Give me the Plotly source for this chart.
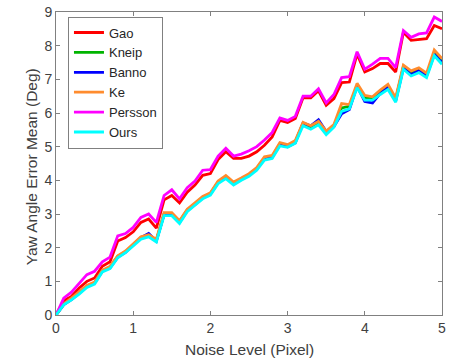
import plotly.graph_objects as go

noise = [round(i * 0.1, 1) for i in range(51)]

gao = [0, 0.42, 0.55, 0.8, 1.0, 1.1, 1.45, 1.58, 2.2, 2.3,
       2.47, 2.75, 2.85, 2.58, 3.42, 3.55, 3.33, 3.65, 3.86, 4.15,
       4.2, 4.62, 4.85, 4.65, 4.65, 4.72, 4.85, 5.04, 5.29, 5.78,
       5.72, 5.84, 6.45, 6.45, 6.66, 6.23, 6.43, 6.9, 6.92, 7.75,
       7.22, 7.32, 7.47, 7.47, 7.22, 8.4, 8.16, 8.18, 8.21, 8.6, 8.5]

persson = [0, 0.5, 0.68, 0.95, 1.2, 1.3, 1.58, 1.72, 2.35, 2.42,
           2.6, 2.9, 3.0, 2.75, 3.55, 3.72, 3.45, 3.78, 3.98, 4.3,
           4.32, 4.72, 4.95, 4.72, 4.78, 4.88, 5.0, 5.2, 5.42, 5.85,
           5.78, 5.9, 6.5, 6.5, 6.72, 6.3, 6.55, 7.05, 7.08, 7.82,
           7.3, 7.45, 7.62, 7.62, 7.35, 8.45, 8.25, 8.35, 8.38, 8.85, 8.72]

ours = [0, 0.3, 0.45, 0.62, 0.82, 0.92, 1.28, 1.38, 1.7, 1.85,
        2.05, 2.25, 2.32, 2.17, 2.95, 2.95, 2.72, 3.07, 3.26, 3.45,
        3.56, 3.9, 4.05, 3.86, 4.0, 4.12, 4.3, 4.6, 4.65, 5.02,
        4.98, 5.1, 5.62, 5.52, 5.65, 5.36, 5.58, 6.05, 6.12, 6.75,
        6.38, 6.38, 6.55, 6.7, 6.32, 7.3, 7.1, 7.2, 7.05, 7.7, 7.45]

kneip = [0, 0.32, 0.48, 0.66, 0.86, 0.96, 1.31, 1.42, 1.74, 1.88,
         2.08, 2.3, 2.36, 2.22, 3.0, 3.0, 2.78, 3.12, 3.3, 3.5,
         3.6, 3.95, 4.1, 3.92, 4.04, 4.17, 4.35, 4.66, 4.7, 5.08,
         5.02, 5.15, 5.68, 5.58, 5.72, 5.42, 5.62, 6.15, 6.2, 6.82,
         6.45, 6.42, 6.62, 6.78, 6.4, 7.38, 7.18, 7.28, 7.12, 7.78, 7.52]

banno = [0, 0.31, 0.46, 0.64, 0.84, 0.95, 1.3, 1.4, 1.72, 1.86,
         2.08, 2.3, 2.42, 2.2, 2.98, 2.98, 2.75, 3.1, 3.28, 3.48,
         3.6, 3.94, 4.1, 3.9, 4.04, 4.16, 4.34, 4.64, 4.68, 5.06,
         5.0, 5.12, 5.7, 5.62, 5.8, 5.45, 5.6, 5.98, 6.1, 6.8,
         6.34, 6.3, 6.58, 6.76, 6.36, 7.34, 7.14, 7.26, 7.1, 7.74, 7.5]

ke = [0, 0.33, 0.5, 0.68, 0.88, 0.98, 1.33, 1.45, 1.76, 1.9,
      2.1, 2.32, 2.38, 2.25, 3.04, 3.04, 2.8, 3.14, 3.33, 3.52,
      3.63, 3.98, 4.14, 3.95, 4.07, 4.2, 4.38, 4.7, 4.74, 5.12,
      5.06, 5.18, 5.72, 5.62, 5.75, 5.46, 5.66, 6.28, 6.25, 6.88,
      6.52, 6.48, 6.68, 6.85, 6.45, 7.42, 7.25, 7.34, 7.18, 7.87, 7.62]

series = [
    ("Gao", gao, "#ff0000"),
    ("Kneip", kneip, "#00b400"),
    ("Banno", banno, "#0000ff"),
    ("Ke", ke, "#ff8c2e"),
    ("Persson", persson, "#ff00ff"),
    ("Ours", ours, "#00ffff"),
]

x_title = "Noise Level (Pixel)"
y_title = "Yaw Angle Error Mean (Deg)"

fig = go.Figure()
for name, vals, col in series:
    fig.add_trace(go.Scatter(x=noise, y=vals, mode="lines", name=name,
                             line=dict(color=col, width=2.8)))

FONT = "Liberation Sans, Arial, sans-serif"
axis_common = dict(
    showgrid=False, zeroline=False, showline=True, linecolor="#808080",
    linewidth=1, mirror="ticks", ticks="inside", ticklen=4,
    tickcolor="#808080", tickfont=dict(family=FONT, size=14, color="#404040"),
    dtick=1, ticklabeloverflow="allow",
)

fig.update_layout(
    width=450, height=364,
    margin=dict(l=56, r=4, t=12, b=49),
    paper_bgcolor="white", plot_bgcolor="white",
    font=dict(family=FONT, color="#404040"),
    xaxis=dict(range=[0, 5], **axis_common),
    yaxis=dict(range=[0, 9], **axis_common),
    legend=dict(x=0.031, y=0.985, xanchor="left", yanchor="top",
                bgcolor="white", bordercolor="#808080", borderwidth=1,
                font=dict(family=FONT, size=13, color="#262626"), itemwidth=30,
                tracegroupgap=0),
    showlegend=True,
    annotations=[
        dict(text=x_title, xref="paper", yref="paper", x=0.5, y=-0.115,
             xanchor="center", yanchor="middle", showarrow=False,
             font=dict(family=FONT, size=15.5, color="#404040")),
        dict(text=y_title, xref="paper", yref="paper", x=-0.063, y=0.49,
             xanchor="center", yanchor="middle", showarrow=False, textangle=-90,
             font=dict(family=FONT, size=15.5, color="#404040")),
    ],
)

fig.write_html("out.html")
